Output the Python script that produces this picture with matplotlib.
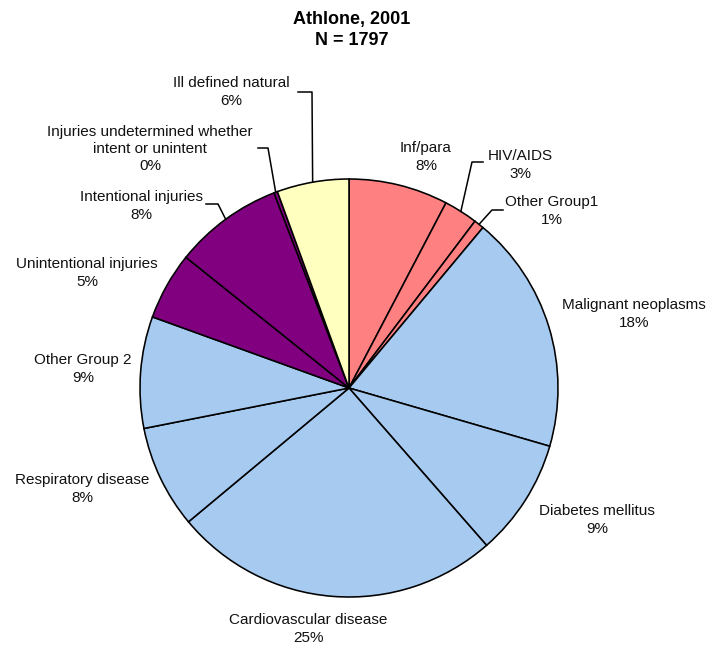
import numpy as np
import matplotlib
matplotlib.use("Agg")
import matplotlib.pyplot as plt

# Deaths by cause, Athlone 2001 (N = 1797)
causes = ["Inf/para", "HIV/AIDS", "Other Group1", "Malignant neoplasms",
          "Diabetes mellitus", "Cardiovascular disease", "Respiratory disease",
          "Other Group 2", "Unintentional injuries", "Intentional injuries",
          "Injuries undetermined whether\nintent or unintent", "Ill defined natural"]
counts = [138, 47, 14, 331, 163, 456, 143, 155, 94, 151, 5, 100]
colors = ["#FF8080", "#FF8080", "#FF8080", "#A6CAF0", "#A6CAF0", "#A6CAF0",
          "#A6CAF0", "#A6CAF0", "#800080", "#800080", "#800080", "#FFFFC0"]

W, H = 712, 651
# layout, in pixels from top-left of the picture
pie_cx, pie_cy, pie_r = 349, 388, 209
label_pos = [(426, 157), (520, 165), (552, 211), (634, 314), (597, 520),
             (308, 629), (82, 489), (83, 369), (87, 273), (141, 206),
             (150, 149), (231, 92)]
# index -> (start x, start y, elbow x)
leaders = {11: (298, 92, 312), 10: (258, 148, 268), 9: (206, 204, 218),
           1: (483, 162, 472), 2: (503, 210, 492)}

plt.rcParams['font.family'] = ['Liberation Sans', 'DejaVu Sans']

fig = plt.figure(figsize=(W / 100, H / 100), dpi=100)
ax = fig.add_axes([0, 0, 1, 1])

wedges, _ = ax.pie(counts, colors=colors, startangle=90, counterclock=False,
                   center=(pie_cx, H - pie_cy), radius=pie_r,
                   wedgeprops=dict(edgecolor="black", linewidth=1.15))

# pie() sets its own limits, so put the pixel frame back afterwards
ax.set_xlim(0, W)
ax.set_ylim(0, H)
ax.set_aspect("equal")
ax.axis("off")

total = sum(counts)
for i, (name, c) in enumerate(zip(causes, counts)):
    pct = round(100 * c / total)
    x, y = label_pos[i]
    ax.text(x, H - y, f"{name}\n{pct}%", ha="center", va="center",
            fontsize=11, linespacing=1.3, color="#111111")

for i, (sx, sy, ex) in leaders.items():
    w = wedges[i]
    mid = np.deg2rad((w.theta1 + w.theta2) / 2)
    px = pie_cx + pie_r * np.cos(mid)
    py = (H - pie_cy) + pie_r * np.sin(mid)
    ax.plot([sx, ex, px], [H - sy, H - sy, py], color="black", lw=1.1)

ax.text(W / 2 - 4, H - 30, "Athlone, 2001\nN = 1797", ha="center", va="center",
        fontsize=13, fontweight="bold", linespacing=1.35)

fig.savefig("out.png", dpi=100)
